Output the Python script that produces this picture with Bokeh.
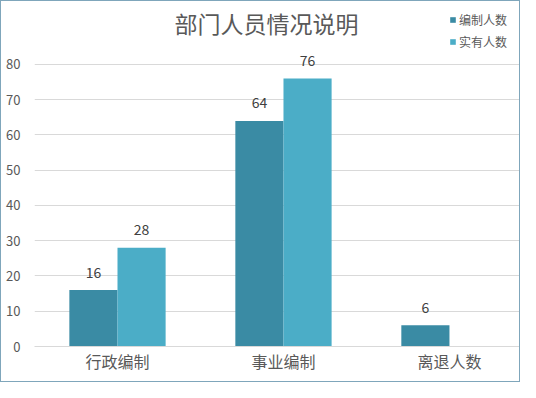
from bokeh.plotting import figure
from bokeh.models import Range1d, ColumnDataSource, LabelSet, Label, Legend, LegendItem, FixedTicker
from bokeh.transform import dodge
from bokeh.core.properties import value
from bokeh.embed import file_html
from bokeh.resources import INLINE

categories = ["行政编制", "事业编制", "离退人数"]
quota = [16, 64, 6]
actual = [28, 76, None]
series_names = ["编制人数", "实有人数"]
title_text = "部门人员情况说明"
y_ticks = [0, 10, 20, 30, 40, 50, 60, 70, 80]

FONT = "Noto Sans CJK SC"
TXT = "#595959"
C1 = "#3A8BA4"
C2 = "#4BADC7"

xpos = [i + 0.5 for i in range(len(categories))]

p = figure(width=520, height=382, output_backend="svg", toolbar_location=None,
           x_range=Range1d(0, 2.934), y_range=Range1d(0, 97.87),
           min_border_left=33, min_border_right=0, min_border_top=0, min_border_bottom=37)
p.styles = {"border": "1px solid #7FA6BB", "box-sizing": "border-box"}

src = ColumnDataSource(dict(x=xpos, quota=quota,
                            actual=[float("nan") if v is None else v for v in actual]))
r1 = p.vbar(x=dodge("x", -0.145), top="quota", width=0.29, source=src,
            fill_color=C1, line_color=None)
r2 = p.vbar(x=dodge("x", 0.145), top="actual", width=0.29, source=src,
            fill_color=C2, line_color=None)

lab1 = ColumnDataSource(dict(x=xpos, y=quota, t=[str(v) for v in quota]))
ac = [(x, v) for x, v in zip(xpos, actual) if v is not None]
lab2 = ColumnDataSource(dict(x=[x for x, v in ac], y=[v for x, v in ac], t=[str(v) for x, v in ac]))
for s, off in ((lab1, -0.145), (lab2, 0.145)):
    p.add_layout(LabelSet(x=dodge("x", off), y="y", text="t", source=s,
                          text_align="center", text_baseline="middle", y_offset=18,
                          text_font=value(FONT), text_font_size="14px", text_color="#404040"))

p.add_layout(Label(x=1.398, y=91.8, text=title_text, text_align="center", text_baseline="middle",
                   text_font=FONT, text_font_size="23px", text_color=TXT))

legend = Legend(items=[LegendItem(label=series_names[0], renderers=[r1]),
                       LegendItem(label=series_names[1], renderers=[r2])],
                location=(415, 296), orientation="vertical",
                background_fill_alpha=0, border_line_color=None, padding=0, margin=0,
                spacing=5, glyph_width=7, glyph_height=7, label_height=14, label_standoff=3,
                label_text_font=FONT, label_text_font_size="12px", label_text_color=TXT)
p.add_layout(legend, "center")

p.yaxis.ticker = FixedTicker(ticks=y_ticks)
p.yaxis.axis_line_color = None
p.yaxis.major_tick_line_color = None
p.yaxis.minor_tick_line_color = None
p.yaxis.major_label_standoff = 8
p.yaxis.major_label_text_font = FONT
p.yaxis.major_label_text_font_size = "13px"
p.yaxis.major_label_text_color = TXT

p.xaxis.ticker = FixedTicker(ticks=xpos)
p.xaxis.major_label_overrides = {x: c for x, c in zip(xpos, categories)}
p.xaxis.axis_line_color = "#D9D9D9"
p.xaxis.major_tick_line_color = None
p.xaxis.minor_tick_line_color = None
p.xaxis.major_label_standoff = -4
p.xaxis.major_label_text_font = FONT
p.xaxis.major_label_text_font_size = "16px"
p.xaxis.major_label_text_color = TXT

p.xgrid.grid_line_color = None
p.ygrid.grid_line_color = "#D9D9D9"
p.ygrid.ticker = FixedTicker(ticks=y_ticks)
p.outline_line_color = None

open("out.html", "w").write(file_html(p, INLINE))
